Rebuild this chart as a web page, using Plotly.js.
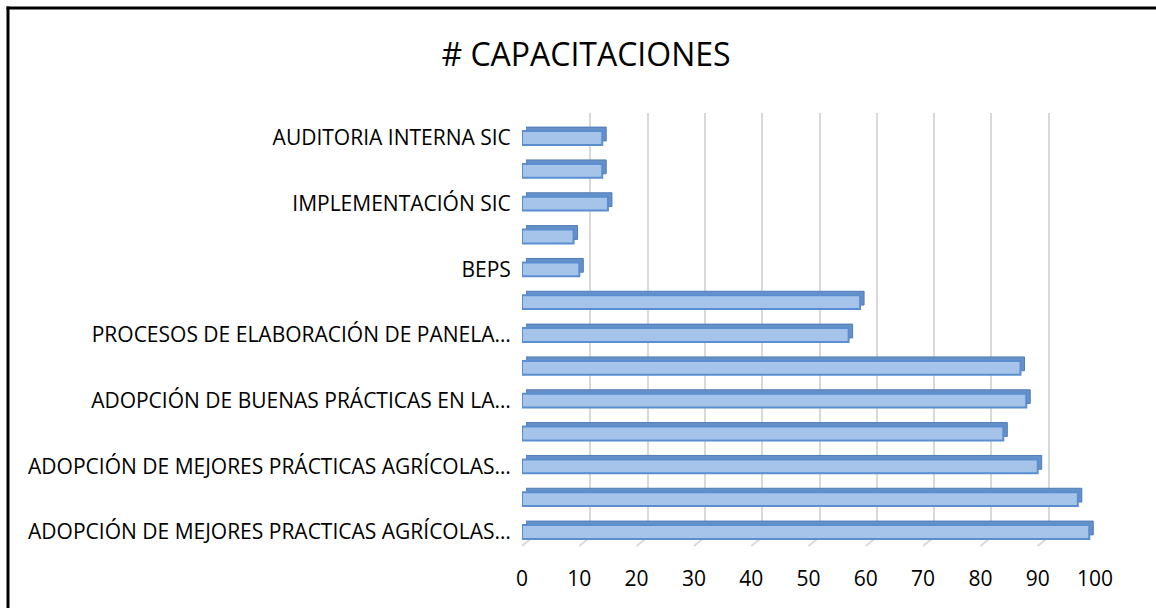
<!DOCTYPE html>
<html>
<head>
<meta charset="utf-8">
<script src="https://cdn.plot.ly/plotly-3.0.1.min.js"></script>
<style>html,body{margin:0;padding:0;background:#fff;overflow:hidden;}#chart{width:1156px;height:608px;}</style>
</head>
<body>
<div id="chart"></div>
<script>
// Categories bottom -> top (only every other label is shown in the reference)
const categoryLabels = [
  "ADOPCIÓN DE MEJORES PRACTICAS AGRÍCOLAS…",
  "",
  "ADOPCIÓN DE MEJORES PRÁCTICAS AGRÍCOLAS…",
  "",
  "ADOPCIÓN DE BUENAS PRÁCTICAS EN LA…",
  "",
  "PROCESOS DE ELABORACIÓN DE PANELA…",
  "",
  "BEPS",
  "",
  "IMPLEMENTACIÓN SIC",
  "",
  "AUDITORIA INTERNA SIC"
];
const values = [99, 97, 90, 84, 88, 87, 57, 59, 10, 9, 15, 14, 14];
const xTicks = [0, 10, 20, 30, 40, 50, 60, 70, 80, 90, 100];
const titleText = "# CAPACITACIONES";

const positions = categoryLabels.map((_, i) => i);
const shownVals = positions.filter(i => categoryLabels[i] !== "");
const shownText = shownVals.map(i => categoryLabels[i]);

// pixel geometry helpers (plot area: x 520..1106, y 110..550)
const W = 1156, H = 608;
const L = 520, R = 50, T = 110, B = 58;
const PW = W - L - R, PH = H - T - B;
const fx = px => (px - L) / PW;
const fy = py => (H - B - py) / PH;

const FONT = "Open Sans, Liberation Sans, sans-serif";
const D = 4; // depth offset in px

const traces = [
  { // empty trace so that the back grid subplot is built
    type: "scatter", mode: "markers", x: [], y: [], xaxis: "x", yaxis: "y",
    hoverinfo: "skip", showlegend: false
  },
  { // depth (top + right faces)
    type: "bar", orientation: "h", x: values, y: positions,
    xaxis: "x2", yaxis: "y2", width: 0.42,
    marker: { color: "#6690C8", line: { color: "#4F7DB8", width: 1 } },
    hoverinfo: "skip", showlegend: false
  },
  { // front faces
    type: "bar", orientation: "h", x: values, y: positions,
    xaxis: "x3", yaxis: "y3", width: 0.42,
    marker: { color: "#A6C4EA", line: { color: "#5A8ED0", width: 2 } },
    showlegend: false
  }
];

const shapes = xTicks.map(v => ({
  type: "line", xref: "x3", yref: "paper",
  xsizemode: "pixel", xanchor: v, x0: 0, x1: 11,
  ysizemode: "pixel", yanchor: fy(546), y0: 0, y1: 9,
  line: { color: "#D9D9D9", width: 2 }, layer: "below"
}));
// outer frame (top and left edges visible)
shapes.push({
  type: "line", xref: "paper", yref: "paper",
  x0: fx(6.5), x1: fx(1400), y0: fy(8), y1: fy(8),
  line: { color: "#000", width: 3 }
});
shapes.push({
  type: "line", xref: "paper", yref: "paper",
  x0: fx(8), x1: fx(8), y0: fy(6.5), y1: fy(800),
  line: { color: "#000", width: 3 }
});

const layout = {
  width: W, height: H,
  margin: { l: L, r: R, t: T, b: B, pad: 0 },
  paper_bgcolor: "#fff", plot_bgcolor: "rgba(0,0,0,0)",
  font: { family: FONT, color: "#000" },
  title: {
    text: titleText, font: { family: FONT, size: 32, color: "#000" },
    xref: "paper", x: fx(586), xanchor: "center",
    yref: "container", y: 1 - 55 / H, yanchor: "middle"
  },
  xaxis: {
    domain: [fx(533), fx(1106)], range: [0, 100], anchor: "y",
    tickvals: xTicks, showgrid: true, gridcolor: "#D9D9D9", gridwidth: 2,
    showticklabels: false, zeroline: false, showline: false, ticks: "", fixedrange: true
  },
  yaxis: {
    domain: [fy(537), fy(113)], range: [0, 1], anchor: "x",
    showgrid: false, showticklabels: false, zeroline: false, showline: false, ticks: ""
  },
  xaxis2: {
    domain: [fx(522 + D), fx(1095 + D)], range: [0, 100], anchor: "y2",
    visible: false, showgrid: false, zeroline: false
  },
  yaxis2: {
    domain: [fy(548.4 - D), fy(121.6 - D)], range: [-0.5, 12.5], anchor: "x2",
    visible: false, showgrid: false, zeroline: false
  },
  xaxis3: {
    domain: [fx(522), fx(1095)], range: [0, 100], anchor: "y3",
    tickvals: xTicks, ticks: "outside", ticklen: 11, tickcolor: "rgba(0,0,0,0)",
    showgrid: false, zeroline: false, showline: false,
    tickfont: { family: FONT, size: 21, color: "#000" }
  },
  yaxis3: {
    domain: [fy(548.4), fy(121.6)], range: [-0.5, 12.5], anchor: "x3",
    tickvals: shownVals, ticktext: shownText,
    ticks: "outside", ticklen: 6, tickcolor: "rgba(0,0,0,0)",
    showgrid: false, zeroline: false, showline: false,
    tickfont: { family: FONT, size: 21, color: "#000" }
  },
  shapes: shapes
};

Plotly.newPlot("chart", traces, layout, { displayModeBar: false, staticPlot: true });
</script>
</body>
</html>
